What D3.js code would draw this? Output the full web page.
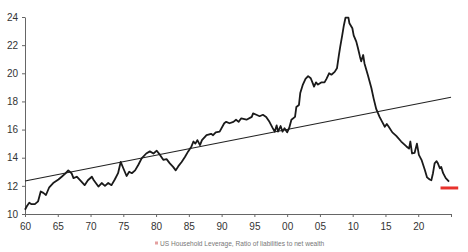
<!DOCTYPE html>
<html>
<head>
<meta charset="utf-8">
<script src="https://cdn.jsdelivr.net/npm/d3@7"></script>
<style>
  body { margin: 0; background: #fff; }
  svg { display: block; }
  .axis text { font-family: "Liberation Sans Narrow", "Arial Narrow", "Liberation Sans", sans-serif; font-size: 10px; fill: #333; }
  .axis path, .axis line { stroke: #666; }
</style>
</head>
<body>
<svg width="468" height="252"></svg>
<script>
// US household leverage, liabilities / net wealth (%)
var years = [
  1960.0, 1960.3, 1960.65, 1961.0, 1961.5, 1962.0, 1962.4, 1962.8, 1963.2, 1963.7,
  1964.3, 1965.1, 1965.6, 1966.1, 1966.6, 1967.1, 1967.4, 1967.9, 1968.4, 1969.1,
  1969.6, 1970.2, 1970.5, 1971.2, 1971.7, 1972.2, 1972.7, 1973.2, 1973.7, 1974.2,
  1974.6, 1975.0, 1975.5, 1975.9, 1976.3, 1976.8, 1977.3, 1977.8, 1978.5, 1979.05,
  1979.6, 1980.1, 1980.6, 1981.1, 1981.6, 1982.1, 1982.6, 1983.0, 1983.4, 1983.9,
  1984.4, 1984.9, 1985.4, 1985.7, 1986.0, 1986.3, 1986.7, 1987.0, 1987.7, 1988.4,
  1988.7, 1989.1, 1989.7, 1990.4, 1990.7, 1991.2, 1991.8, 1992.2, 1992.6, 1993.0,
  1993.8, 1994.6, 1994.8, 1995.3, 1995.8, 1996.3, 1996.8, 1997.3, 1997.8, 1998.1,
  1998.4, 1998.6, 1999.0, 1999.3, 1999.6, 2000.0, 2000.3, 2000.65, 2001.2, 2001.4,
  2001.8, 2002.0, 2002.4, 2002.8, 2003.2, 2003.6, 2003.9, 2004.1, 2004.4, 2004.7,
  2005.2, 2005.7, 2006.0, 2006.4, 2006.75, 2007.25, 2007.6, 2007.9, 2008.1, 2008.4,
  2008.65, 2008.9, 2009.35, 2009.5, 2009.95, 2010.15, 2010.55, 2010.8, 2011.1, 2011.3,
  2011.6, 2011.8, 2012.3, 2012.85, 2013.2, 2013.6, 2014.1, 2014.5, 2014.9, 2015.2,
  2015.5, 2016.05, 2016.65, 2017.4, 2018.2, 2018.6, 2018.8, 2019.05, 2019.45, 2019.8,
  2020.1, 2020.5, 2021.0, 2021.35, 2021.75, 2022.0, 2022.25, 2022.5, 2022.8, 2023.0,
  2023.3, 2023.5, 2023.8, 2024.2, 2024.7
];
var leverage = [
  10.3, 10.57, 10.8, 10.7, 10.7, 10.9, 11.6, 11.5, 11.35, 11.9,
  12.2, 12.45, 12.65, 12.85, 13.1, 12.9, 12.55, 12.65, 12.4, 12.05,
  12.4, 12.65, 12.4, 11.95, 12.2, 12.0, 12.2, 12.05, 12.45, 12.9,
  13.7, 13.25, 12.7, 13.0, 12.9, 13.1, 13.5, 13.95, 14.3, 14.45,
  14.3, 14.5, 14.2, 13.85, 13.9, 13.6, 13.35, 13.1, 13.4, 13.7,
  14.05, 14.45, 14.8, 15.15, 15.0, 15.25, 14.9, 15.25, 15.6, 15.7,
  15.6, 15.8, 15.85, 16.45, 16.55, 16.45, 16.55, 16.7, 16.55, 16.8,
  16.7, 16.9, 17.15, 17.05, 16.95, 17.05, 16.9, 16.55, 16.1, 15.85,
  16.3, 15.85, 16.25, 15.85, 16.1, 15.8, 16.1, 16.7, 16.9, 17.6,
  17.75, 18.6, 19.2, 19.6, 19.8, 19.65, 19.3, 19.05, 19.35, 19.2,
  19.35, 19.35, 19.6, 20.0, 19.9, 20.1, 20.35, 21.3, 21.9, 22.7,
  23.4, 23.95, 23.95, 23.55, 23.2, 22.7, 22.25, 21.8, 21.2, 20.85,
  21.3, 20.7, 19.9, 18.95, 18.2, 17.45, 16.9, 16.55, 16.2, 16.4,
  16.2, 15.8, 15.55, 15.15, 14.8, 14.65, 15.15, 14.3, 14.35, 15.0,
  14.2, 13.85, 13.15, 12.6, 12.45, 12.4, 12.9, 13.6, 13.75, 13.6,
  13.25, 13.35, 12.9, 12.55, 12.3
];
var trendYears = [1960, 2025];
var trendValues = [12.35, 18.3];
var markerYears = [2023.4, 2026.1];
var markerValues = [11.85, 11.85];
var yTicks = [10, 12, 14, 16, 18, 20, 22, 24];
var xTicks = [1960, 1965, 1970, 1975, 1980, 1985, 1990, 1995, 2000, 2005, 2010, 2015, 2020, 2025];
var legendLabel = "US Household Leverage, Ratio of liabilities to net wealth";

var svg = d3.select("svg");

var x = d3.scaleLinear().domain([1960, 2025]).range([25, 451]);
var y = d3.scaleLinear().domain([10, 24]).range([214, 17]);

var xAxis = d3.axisBottom(x)
  .tickValues(xTicks)
  .tickSize(3)
  .tickSizeOuter(0)
  .tickFormat(function (d) {
    if (d === 2025) return "";
    return String(d % 100).padStart(2, "0");
  });

svg.append("g")
  .attr("class", "axis")
  .attr("transform", "translate(0,214)")
  .call(xAxis)
  .selectAll("text")
  .attr("dy", "0.95em");

var yAxis = d3.axisLeft(y)
  .tickValues(yTicks)
  .tickSize(3)
  .tickSizeOuter(0)
  .tickPadding(4);

svg.append("g")
  .attr("class", "axis")
  .attr("transform", "translate(25,0)")
  .call(yAxis);

var line = d3.line()
  .x(function (d) { return x(d[0]); })
  .y(function (d) { return y(d[1]); });

// trend line
svg.append("path")
  .datum(d3.zip(trendYears, trendValues))
  .attr("d", line)
  .attr("fill", "none")
  .attr("stroke", "#222")
  .attr("stroke-width", 1.1);

// leverage series
svg.append("path")
  .datum(d3.zip(years, leverage))
  .attr("d", line)
  .attr("fill", "none")
  .attr("stroke", "#1a1a1a")
  .attr("stroke-width", 1.8)
  .attr("stroke-linejoin", "round");

// red level marker
svg.append("path")
  .datum(d3.zip(markerYears, markerValues))
  .attr("d", line)
  .attr("fill", "none")
  .attr("stroke", "#e8322c")
  .attr("stroke-width", 3);

// legend
svg.append("rect")
  .attr("x", 155)
  .attr("y", 241.5)
  .attr("width", 3)
  .attr("height", 3)
  .attr("fill", "#e4a0a0");

svg.append("text")
  .attr("x", 160)
  .attr("y", 245.5)
  .style("font-family", "'Liberation Sans Narrow', 'Arial Narrow', sans-serif")
  .style("font-size", "6.6px")
  .style("fill", "#777")
  .text(legendLabel);
</script>
</body>
</html>
